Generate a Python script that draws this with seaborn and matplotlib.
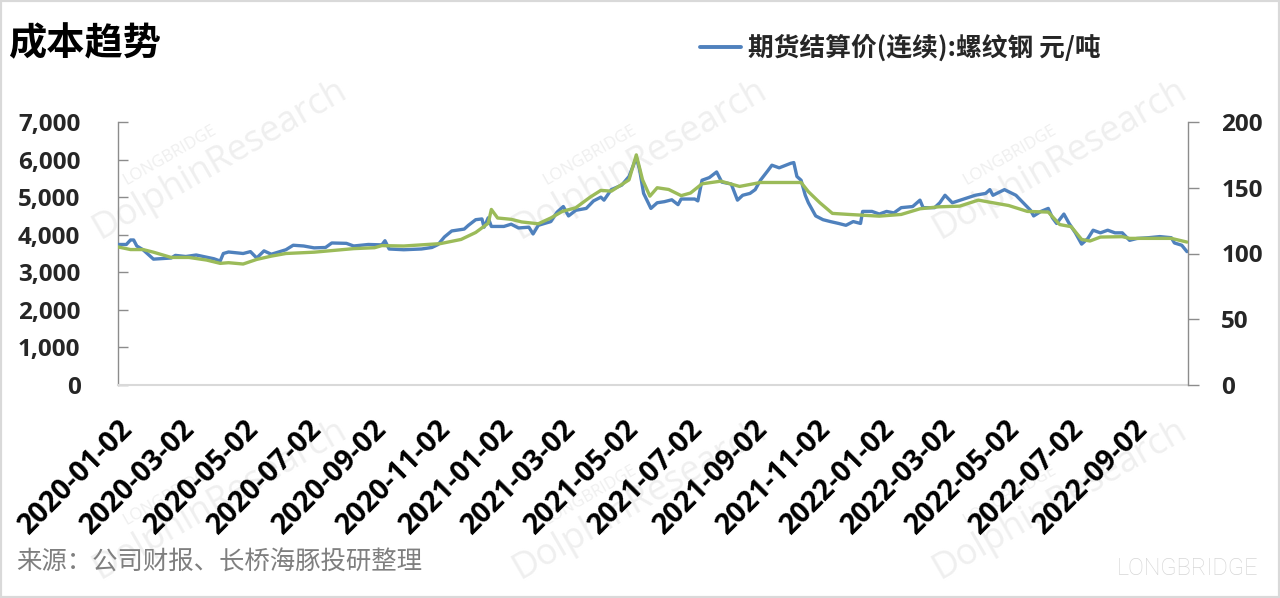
import matplotlib
matplotlib.use("Agg")
import matplotlib.pyplot as plt
import matplotlib.dates as mdates
from matplotlib.patches import Rectangle
from matplotlib.lines import Line2D
from matplotlib.font_manager import FontProperties
from matplotlib.ticker import FuncFormatter, FixedLocator
import seaborn as sns
import pandas as pd

# ---------------- data ----------------
rebar_dates = [
    "2020-01-02", "2020-01-10", "2020-01-14", "2020-01-17", "2020-01-20", "2020-01-26",
    "2020-02-05", "2020-02-22", "2020-02-26", "2020-03-07", "2020-03-17", "2020-03-27",
    "2020-04-03", "2020-04-09", "2020-04-12", "2020-04-17", "2020-05-01", "2020-05-08",
    "2020-05-14", "2020-05-21", "2020-05-28", "2020-06-11", "2020-06-18", "2020-06-28",
    "2020-07-08", "2020-07-19", "2020-07-25", "2020-08-08", "2020-08-15", "2020-08-29",
    "2020-09-11", "2020-09-14", "2020-09-18", "2020-10-02", "2020-10-19", "2020-10-29",
    "2020-11-04", "2020-11-10", "2020-11-17", "2020-11-29", "2020-12-03", "2020-12-10",
    "2020-12-16", "2020-12-18", "2020-12-22", "2020-12-25", "2021-01-06", "2021-01-13",
    "2021-01-20", "2021-01-30", "2021-02-03", "2021-02-08", "2021-02-20", "2021-02-26",
    "2021-03-04", "2021-03-09", "2021-03-16", "2021-03-26", "2021-04-02", "2021-04-09",
    "2021-04-12", "2021-04-19", "2021-04-29", "2021-05-06", "2021-05-13", "2021-05-16",
    "2021-05-20", "2021-05-27", "2021-06-02", "2021-06-09", "2021-06-16", "2021-06-22",
    "2021-06-25", "2021-07-08", "2021-07-11", "2021-07-15", "2021-07-22", "2021-07-29",
    "2021-08-03", "2021-08-12", "2021-08-18", "2021-08-23", "2021-08-30", "2021-09-04",
    "2021-09-09", "2021-09-16", "2021-09-20", "2021-09-27", "2021-10-08", "2021-10-11",
    "2021-10-14", "2021-10-18", "2021-10-22", "2021-10-25", "2021-10-29", "2021-11-01",
    "2021-11-08", "2021-11-15", "2021-11-23", "2021-11-30", "2021-12-07", "2021-12-14",
    "2021-12-16", "2021-12-25", "2022-01-01", "2022-01-08", "2022-01-15", "2022-01-22",
    "2022-02-02", "2022-02-09", "2022-02-12", "2022-02-23", "2022-02-28", "2022-03-05",
    "2022-03-12", "2022-03-23", "2022-04-03", "2022-04-13", "2022-04-17", "2022-04-20",
    "2022-05-01", "2022-05-12", "2022-05-19", "2022-05-26", "2022-05-29", "2022-06-05",
    "2022-06-12", "2022-06-16", "2022-06-20", "2022-06-27", "2022-07-02", "2022-07-08",
    "2022-07-14", "2022-07-20", "2022-07-25", "2022-08-01", "2022-08-08", "2022-08-15",
    "2022-08-22", "2022-08-29", "2022-09-05", "2022-09-16", "2022-09-27", "2022-10-08",
    "2022-10-11", "2022-10-18", "2022-10-23",
]
rebar_price = [
    3740, 3740, 3860, 3860, 3700, 3600,
    3350, 3380, 3450, 3420, 3460, 3400,
    3360, 3300, 3500, 3540, 3500, 3550,
    3380, 3570, 3480, 3600, 3720, 3700,
    3650, 3660, 3780, 3770, 3700, 3740,
    3730, 3840, 3620, 3600, 3620, 3660,
    3740, 3940, 4100, 4150, 4250, 4400,
    4420, 4200, 4450, 4220, 4220, 4280,
    4180, 4200, 4020, 4250, 4350, 4600,
    4750, 4500, 4650, 4700, 4900, 5000,
    4920, 5200, 5320, 5550, 6050, 5750,
    5100, 4700, 4850, 4880, 4930, 4800,
    4950, 4950, 4900, 5450, 5520, 5670,
    5400, 5350, 4920, 5050, 5100, 5200,
    5450, 5700, 5850, 5780, 5900, 5920,
    5550, 5450, 5050, 4850, 4650, 4500,
    4400, 4350, 4300, 4250, 4350, 4300,
    4620, 4620, 4550, 4620, 4580, 4720,
    4750, 4920, 4720, 4720, 4850, 5050,
    4850, 4950, 5050, 5100, 5200, 5050,
    5200, 5050, 4850, 4650, 4500, 4620,
    4700, 4450, 4300, 4550, 4300, 4050,
    3750, 3900, 4120, 4050, 4120, 4050,
    4050, 3850, 3900, 3920, 3950, 3920,
    3780, 3720, 3550,
]

cost_dates = [
    "2020-01-02", "2020-01-14", "2020-01-26", "2020-02-05", "2020-02-22", "2020-03-10",
    "2020-03-27", "2020-04-09", "2020-04-17", "2020-05-01", "2020-05-14", "2020-05-28",
    "2020-06-11", "2020-07-08", "2020-08-15", "2020-09-04", "2020-09-11", "2020-10-02",
    "2020-11-06", "2020-11-26", "2020-12-10", "2020-12-22", "2020-12-25", "2020-12-31",
    "2021-01-13", "2021-01-23", "2021-02-08", "2021-02-20", "2021-03-03", "2021-03-16",
    "2021-03-30", "2021-04-09", "2021-04-19", "2021-05-06", "2021-05-13", "2021-05-19",
    "2021-05-26", "2021-06-02", "2021-06-13", "2021-06-25", "2021-07-04", "2021-07-15",
    "2021-08-02", "2021-08-20", "2021-09-09", "2021-10-18", "2021-10-25", "2021-11-05",
    "2021-11-17", "2021-12-03", "2022-01-01", "2022-01-22", "2022-02-09", "2022-02-27",
    "2022-03-19", "2022-04-06", "2022-04-17", "2022-05-05", "2022-05-23", "2022-06-12",
    "2022-06-23", "2022-07-04", "2022-07-14", "2022-07-22", "2022-08-01", "2022-08-22",
    "2022-08-29", "2022-10-08", "2022-10-23",
]
cost_index = [
    105, 103, 103, 101, 97, 97,
    95, 92.5, 93, 92, 95.5, 98,
    100, 101, 103.7, 104.4, 106, 105.7,
    107.5, 110.7, 116, 123, 133.5, 127,
    126, 124, 122.6, 127, 132, 134.8,
    143, 148, 147.4, 156, 175, 156,
    143.6, 150, 148.7, 144, 146, 153,
    155, 151, 154, 154, 147, 138.6,
    130.5, 129.7, 128.4, 129.7, 134, 135.5,
    136, 140.6, 139, 136.5, 132, 131.5,
    122, 120.4, 110.7, 109.5, 112.5, 112.8,
    111.5, 111.5, 108.7,
]

tick_labels = [
    "2020-01-02", "2020-03-02", "2020-05-02", "2020-07-02", "2020-09-02", "2020-11-02",
    "2021-01-02", "2021-03-02", "2021-05-02", "2021-07-02", "2021-09-02", "2021-11-02",
    "2022-01-02", "2022-03-02", "2022-05-02", "2022-07-02", "2022-09-02",
]
left_ticks = [0, 1000, 2000, 3000, 4000, 5000, 6000, 7000]
right_ticks = [0, 50, 100, 150, 200]

title_text = "成本趋势"
legend_text = "期货结算价(连续):螺纹钢 元/吨"
source_text = "来源：公司财报、长桥海豚投研整理"

# ---------------- style ----------------
sns.set_theme(style="white")
plt.rcParams['font.family'] = ['Open Sans', 'Noto Sans CJK SC', 'DejaVu Sans']
CJK = ['Noto Sans CJK SC', 'DejaVu Sans']
BLUE = "#4F81BD"
GREEN = "#9BBB59"
AX_GRAY = "#8c8c8c"

W, H = 1280, 598
fig = plt.figure(figsize=(W / 100, H / 100), dpi=100)
fig.patch.set_facecolor("white")

# watermarks (behind everything)
wm_color = "#efefef"
for cx, cy in [(220, 160), (640, 160), (1060, 160), (220, 500), (640, 500), (1060, 500)]:
    fig.text(cx / W, 1 - cy / H, "DolphinResearch", rotation=30, ha="center", va="center",
             fontsize=26, color=wm_color, zorder=-5, family="Open Sans")
    fig.text((cx - 50) / W, 1 - (cy - 5) / H, "LONGBRIDGE", rotation=30, ha="center",
             va="center", fontsize=12, color=wm_color, zorder=-5, family="Open Sans")

ax = fig.add_axes([118 / W, 213 / H, 1070 / W, 263 / H])
ax.patch.set_alpha(0)
ax2 = ax.twinx()
ax2.patch.set_alpha(0)

df_rebar = pd.DataFrame({"date": pd.to_datetime(rebar_dates), "price": rebar_price})
df_cost = pd.DataFrame({"date": pd.to_datetime(cost_dates), "idx": cost_index})

sns.lineplot(data=df_rebar, x="date", y="price", ax=ax, color=BLUE, linewidth=2.4,
             zorder=3)
sns.lineplot(data=df_cost, x="date", y="idx", ax=ax2, color=GREEN, linewidth=2.4,
             zorder=3)
ax.set_zorder(2)
ax2.set_zorder(3)

ax.set_xlim(pd.Timestamp("2020-01-02"), pd.Timestamp("2022-10-24"))
ax.set_ylim(0, 7000)
ax2.set_ylim(0, 200)
ax.set_xlabel("")
ax.set_ylabel("")
ax2.set_xlabel("")
ax2.set_ylabel("")

# x ticks
tick_dates = [mdates.date2num(pd.Timestamp(t)) for t in tick_labels]
ax.xaxis.set_major_locator(FixedLocator(tick_dates))
ax.set_xticklabels(tick_labels, rotation=45, ha="right", va="top", rotation_mode="anchor",
                   fontsize=20.5, fontweight="bold", color="black")
ax.tick_params(axis="x", length=0, pad=21)

# left y
ax.set_yticks(left_ticks)
ax.yaxis.set_major_formatter(FuncFormatter(lambda v, p: f"{int(v):,}"))
ax.tick_params(axis="y", direction="in", length=7, width=1, color=AX_GRAY, pad=27,
               labelsize=17.5)
for lab in ax.get_yticklabels():
    lab.set_fontweight("bold")

# right y
ax2.set_yticks(right_ticks)
ax2.tick_params(axis="y", direction="out", length=8, width=1, color=AX_GRAY, pad=16,
                labelsize=17.5)
for lab in ax2.get_yticklabels():
    lab.set_fontweight("bold")

for a in (ax, ax2):
    a.spines["top"].set_visible(False)
    a.grid(False)
ax.spines["left"].set_color(AX_GRAY)
ax.spines["left"].set_linewidth(1)
ax.spines["right"].set_visible(False)
ax.spines["bottom"].set_color("#d9d9d9")
ax.spines["bottom"].set_linewidth(1.5)
ax2.spines["left"].set_visible(False)
ax2.spines["bottom"].set_visible(False)
ax2.spines["right"].set_color(AX_GRAY)
ax2.spines["right"].set_linewidth(1)

# title
fig.text(8 / W, 1 - 44 / H, title_text, ha="left", va="center", fontsize=27.5,
         fontweight="bold", family=CJK, color="black")

# legend (blue series only)
handle = Line2D([], [], color=BLUE, linewidth=2.8)
fig.legend([handle], [legend_text], loc="center left",
           bbox_to_anchor=(700 / W, 1 - 48 / H), frameon=False,
           prop=FontProperties(family=CJK, weight="bold", size=18.5),
           handlelength=1.6, handletextpad=0.25, borderaxespad=0, borderpad=0)

# source
fig.text(16 / W, 1 - 563 / H, source_text, ha="left", va="center", fontsize=18.3,
         color="#7f7f7f", family=CJK)

# bottom-right brand mark
fig.text(1258 / W, 1 - 568 / H, "LONGBRIDGE", ha="right", va="center", fontsize=17,
         color="#d6d6d6", family="Roboto", fontweight="light")

# outer border
fig.add_artist(Rectangle((0, 0), 1, 1, transform=fig.transFigure, fill=False,
                         edgecolor="#d9d9d9", linewidth=3))

fig.savefig("out.png", dpi=100, facecolor="white")
